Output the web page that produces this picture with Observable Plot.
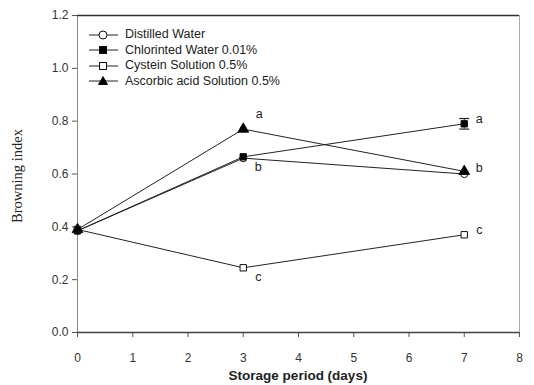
<!DOCTYPE html>
<html><head><meta charset="utf-8">
<script src="https://cdn.jsdelivr.net/npm/d3@7"></script>
<script src="https://cdn.jsdelivr.net/npm/@observablehq/plot@0.6"></script>
<style>
body{margin:0;background:#fff;}
#wrap{position:relative;width:534px;height:385px;font-family:"Liberation Sans",Arial,sans-serif;}
#legend{position:absolute;left:88px;top:27px;font-size:12.5px;color:#222;line-height:15.5px;}
#legend div{display:flex;align-items:center;height:15.5px;}
#legend svg{margin-right:6px;}
#ylab{position:absolute;left:9px;top:176px;transform:translate(-50%,-50%) rotate(-90deg);transform-origin:center;font-family:"Liberation Serif","Times New Roman",serif;font-size:14.5px;color:#222;white-space:nowrap;margin-left:8px;}
#xlab{position:absolute;left:298px;top:368px;transform:translateX(-50%);font-weight:bold;font-size:13.5px;color:#222;white-space:nowrap;}
</style></head>
<body><div id="wrap"><div id="chart"></div><div id="legend"></div><div id="ylab">Browning index</div><div id="xlab">Storage period (days)</div></div>
<script>
const days = [0, 3, 7];
const seriesNames = ["Distilled Water", "Chlorinted Water 0.01%", "Cystein Solution 0.5%", "Ascorbic acid Solution 0.5%"];
const distilled = [0.385, 0.66, 0.600];
const chlorinated = [0.385, 0.665, 0.790];
const cystein = [0.390, 0.245, 0.370];
const ascorbic = [0.390, 0.770, 0.610];
const chlorinatedErr = [0, 0, 0.02];
const symbols = ["circle", "square", "square", "triangle"];
const fills = ["white", "black", "white", "black"];
const letterDay = [3, 3, 3, 7, 7, 7];
const letterY = [0.77, 0.66, 0.245, 0.79, 0.605, 0.37];
const letterText = ["a", "b", "c", "a", "b", "c"];
const letterPos = ["above", "below", "below", "right", "right", "right"];
const xTicks = [0,1,2,3,4,5,6,7,8];
const yTicks = [0,0.2,0.4,0.6,0.8,1.0,1.2];

const allVals = [distilled, chlorinated, cystein, ascorbic];
const rows = [];
allVals.forEach((vals, s) => vals.forEach((v, i) => rows.push({series: seriesNames[s], s, day: days[i], value: v, err: s===1 ? chlorinatedErr[i] : 0})));
const letters = letterText.map((t,i)=>({day: letterDay[i], y: letterY[i], t, pos: letterPos[i]}));
const errRows = rows.filter(d=>d.err>0);
const caps = errRows.flatMap(d => [{day: d.day, y: d.value - d.err}, {day: d.day, y: d.value + d.err}]);
const capSymbol = {draw(ctx, size){ const r = Math.sqrt(size/Math.PI); ctx.moveTo(-r,0); ctx.lineTo(r,0); }};

const plot = Plot.plot({
  width: 534, height: 385,
  marginLeft: 77, marginRight: 15, marginTop: 15, marginBottom: 53,
  style: {fontFamily: '"Liberation Sans", Arial, sans-serif', fontSize: "12px", color: "#333", background: "white"},
  x: {type: "linear", domain: [0, 8], label: null},
  y: {type: "linear", domain: [0, 1.2], label: null},
  marks: [
    Plot.axisX({ticks: xTicks, tickFormat: d3.format("d"), tickSize: 5, tickPadding: 16, fontSize: 12, stroke: "#555"}),
    Plot.axisY({ticks: yTicks, tickFormat: d3.format(".1f"), tickSize: 5, tickPadding: 4, fontSize: 12, stroke: "#555"}),
    Plot.ruleX([0], {stroke: "#888", strokeWidth: 1}),
    Plot.ruleX([8], {stroke: "#aaa", strokeWidth: 1}),
    Plot.ruleY([1.2], {stroke: "#333", strokeWidth: 1.5}),
    Plot.ruleY([0], {stroke: "#444", strokeWidth: 1.5}),
    Plot.line(rows, {x: "day", y: "value", z: "series", stroke: "#222", strokeWidth: 1}),
    Plot.ruleX(errRows, {x: "day", y1: d=>d.value-d.err, y2: d=>d.value+d.err, stroke: "#222"}),
    Plot.dot(caps, {x: "day", y: "y", symbol: capSymbol, r: 5, stroke: "#222", strokeWidth: 1.2}),
    ...[0,1,2,3].map(s => Plot.dot(rows.filter(d=>d.s===s), {x: "day", y: "value", symbol: symbols[s], fill: fills[s], stroke: "#111", strokeWidth: 1, r: s===3 ? 4 : 3.6})),
    Plot.text(letters.filter(d=>d.pos==="above"), {x: "day", y: "y", text: "t", dx: 16, dy: -15, fontSize: 12.5, fill: "#222"}),
    Plot.text(letters.filter(d=>d.pos==="below"), {x: "day", y: "y", text: "t", dx: 15, dy: 9, fontSize: 12.5, fill: "#222"}),
    Plot.text(letters.filter(d=>d.pos==="right"), {x: "day", y: "y", text: "t", dx: 15, dy: -5, fontSize: 12.5, fill: "#222"})
  ]
});
document.getElementById("chart").appendChild(plot);

// legend
const leg = document.getElementById("legend");
seriesNames.forEach((n, s) => {
  const row = document.createElement("div");
  const sym = symbols[s];
  let shape;
  if (sym === "circle") shape = `<circle cx="15" cy="6" r="4" fill="${fills[s]}" stroke="#111"/>`;
  else if (sym === "square") shape = `<rect x="11.5" y="2.5" width="7" height="7" fill="${fills[s]}" stroke="#111"/>`;
  else shape = `<path d="M15,1.5 L19.5,9.5 L10.5,9.5Z" fill="${fills[s]}" stroke="#111"/>`;
  row.innerHTML = `<svg width="31" height="12"><line x1="1" y1="6" x2="30" y2="6" stroke="#222"/>${shape}</svg><span>${n}</span>`;
  leg.appendChild(row);
});
</script></body></html>
